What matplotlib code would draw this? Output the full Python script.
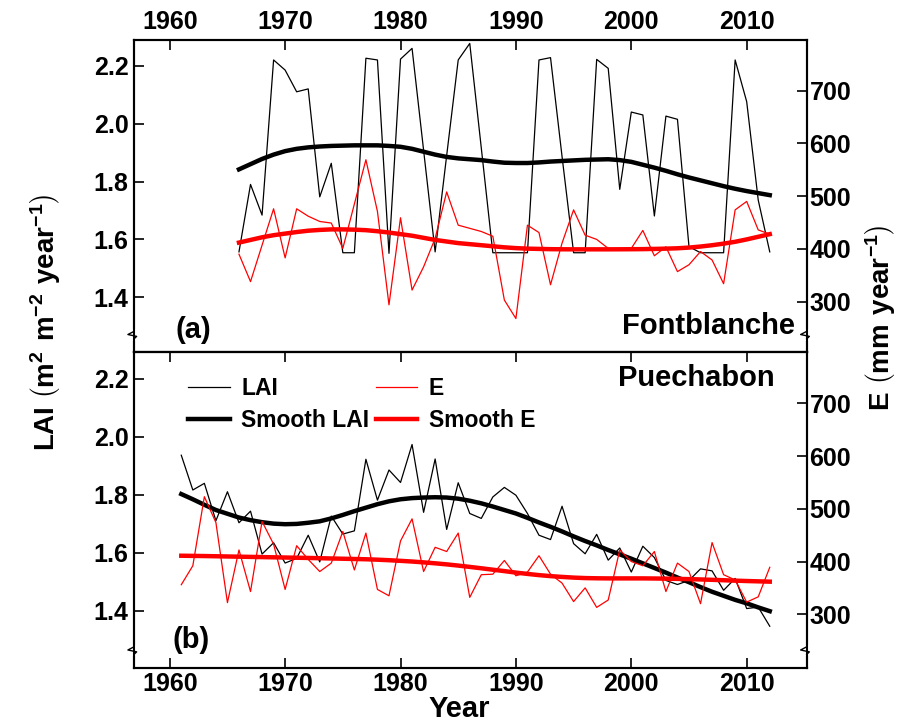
import numpy as np
import matplotlib.pyplot as plt

plt.rcParams['font.family'] = ['Liberation Sans', 'DejaVu Sans']
plt.rcParams['font.weight'] = 'bold'
plt.rcParams['mathtext.fontset'] = 'custom'
plt.rcParams['mathtext.rm'] = 'Liberation Sans:bold'
plt.rcParams['mathtext.bf'] = 'Liberation Sans:bold'
plt.rcParams['axes.linewidth'] = 1.5

# Fontblanche (a), 1966-2012
years_a = np.arange(1966, 2013)
lai_a = [1.557, 1.790, 1.684, 2.220, 2.185, 2.110, 2.120, 1.747, 1.863, 1.554,
         1.554, 2.226, 2.220, 1.552, 2.223, 2.260, 1.908, 1.557, 1.890, 2.220,
         2.277, 1.916, 1.554, 1.554, 1.554, 1.554, 2.220, 2.228, 1.886, 1.554,
         1.554, 2.222, 2.191, 1.773, 2.040, 2.030, 1.681, 2.026, 2.015, 1.575,
         1.554, 1.554, 1.554, 2.220, 2.076, 1.736, 1.557]
e_a = [390, 338, 407, 476, 383, 476, 462, 452, 449, 401,
       485, 569, 471, 294, 459, 322, 366, 420, 508, 445,
       439, 433, 424, 303, 268, 445, 431, 332, 411, 474,
       426, 418, 401, 399, 401, 435, 387, 404, 357, 370,
       395, 379, 334, 474, 490, 436, 428]
slai_a = [1.842, 1.860, 1.878, 1.893, 1.905, 1.913, 1.918, 1.921, 1.923, 1.924,
          1.925, 1.925, 1.925, 1.923, 1.920, 1.913, 1.903, 1.893, 1.885, 1.880,
          1.877, 1.874, 1.869, 1.865, 1.864, 1.864, 1.866, 1.869, 1.871, 1.873,
          1.875, 1.876, 1.877, 1.874, 1.868, 1.858, 1.848, 1.837, 1.825, 1.814,
          1.804, 1.794, 1.784, 1.775, 1.767, 1.760, 1.753]
se_a = [412, 417, 422, 426, 429, 432, 434.5, 436, 437, 437,
        436.5, 435.5, 433.5, 431, 428, 425, 421, 417, 414, 411,
        409, 407, 405, 403, 401.5, 400.5, 400, 399.5, 399.3, 399.2,
        399.2, 399.2, 399.2, 399.3, 399.4, 399.6, 400, 400.5, 401.2, 402.5,
        404.5, 407, 410, 413.5, 418, 423, 428]

# Puechabon (b), 1961-2012
years_b = np.arange(1961, 2013)
lai_b = [1.937, 1.817, 1.840, 1.711, 1.811, 1.704, 1.744, 1.596, 1.635, 1.565,
         1.581, 1.661, 1.569, 1.727, 1.665, 1.676, 1.923, 1.782, 1.886, 1.843,
         1.974, 1.740, 1.924, 1.681, 1.842, 1.736, 1.719, 1.793, 1.826, 1.799,
         1.736, 1.661, 1.646, 1.761, 1.632, 1.597, 1.664, 1.575, 1.617, 1.534,
         1.623, 1.584, 1.505, 1.491, 1.505, 1.545, 1.538, 1.471, 1.512, 1.408,
         1.413, 1.347]
e_b = [356, 392, 523, 474, 322, 422, 343, 476, 433, 347,
       430, 404, 381, 397, 457, 384, 454, 347, 335, 439,
       481, 381, 427, 419, 454, 332, 375, 376, 402, 373,
       380, 411, 376, 359, 324, 350, 313, 327, 422, 400,
       392, 419, 343, 397, 381, 320, 436, 375, 365, 323,
       333, 389]
slai_b = [1.803, 1.785, 1.766, 1.748, 1.735, 1.722, 1.713, 1.706, 1.701, 1.699,
          1.700, 1.704, 1.709, 1.719, 1.731, 1.744, 1.756, 1.768, 1.778, 1.785,
          1.789, 1.791, 1.792, 1.791, 1.787, 1.780, 1.771, 1.760, 1.748, 1.736,
          1.721, 1.705, 1.690, 1.674, 1.657, 1.641, 1.626, 1.610, 1.595, 1.580,
          1.564, 1.548, 1.532, 1.515, 1.499, 1.482, 1.466, 1.452, 1.438, 1.426,
          1.412, 1.399]
se_b = [411, 410.7, 410.4, 410, 409.6, 409.2, 408.8, 408.4, 408, 407.6,
        407.2, 406.8, 406.3, 405.8, 405.3, 404.8, 404.3, 403.5, 402.5, 401.3,
        400, 398.4, 396.6, 394.6, 392.3, 389.8, 387.2, 384.5, 381.8, 379,
        376.5, 374.2, 372.3, 370.8, 369.5, 368.6, 368.2, 368, 368, 368,
        368, 367.8, 367.5, 367.1, 366.6, 366, 365.3, 364.5, 363.7, 363,
        362.4, 361.8]

xticks = [1960, 1970, 1980, 1990, 2000, 2010]
lai_ticks = [1.4, 1.6, 1.8, 2.0, 2.2]
e_ticks = [300, 400, 500, 600, 700]

fig = plt.figure(figsize=(9.17, 7.23), dpi=100)
ax1 = fig.add_axes([0.1461, 0.5127, 0.7336, 0.4320])
ax2 = fig.add_axes([0.1461, 0.0761, 0.7336, 0.4366])

panels = [
    (ax1, years_a, lai_a, e_a, slai_a, se_a, (1.21, 2.289), (204, 796)),
    (ax2, years_b, lai_b, e_b, slai_b, se_b, (1.203, 2.292), (198, 797)),
]

def add_break(ax, yb):
    # small zigzag on the left and right spines
    for x0 in [0.0, 1.0]:
        xs = [x0, x0 - 0.009, x0 + 0.004, x0]
        ys = [yb + 0.012, yb + 0.002, yb - 0.004, yb - 0.012]
        ax.plot([x0, x0], [yb - 0.012, yb + 0.012], color='white', lw=3,
                transform=ax.transAxes, clip_on=False, zorder=5)
        ax.plot(xs, ys, color='black', lw=1.0, transform=ax.transAxes,
                clip_on=False, zorder=6)

lines = []
for i, (ax, yrs, lai, e, slai, se, llim, elim) in enumerate(panels):
    axr = ax.twinx()
    l1, = ax.plot(yrs, lai, color='black', lw=0.9, label='LAI')
    l2, = ax.plot(yrs, slai, color='black', lw=3.2, label='Smooth LAI')
    l3, = axr.plot(yrs, e, color='#ff0000', lw=0.9, label='E')
    l4, = axr.plot(yrs, se, color='#ff0000', lw=3.2, label='Smooth E')
    lines = [l1, l2, l3, l4]
    ax.set_xlim(1956.9, 2015.2)
    ax.set_ylim(*llim)
    axr.set_ylim(*elim)
    ax.set_xticks(xticks)
    ax.set_yticks(lai_ticks)
    ax.set_yticklabels(['%.1f' % v for v in lai_ticks])
    axr.set_yticks(e_ticks)
    ax.tick_params(axis='y', direction='in', length=7, width=1.2,
                   labelsize=18, pad=4)
    axr.tick_params(axis='y', direction='in', length=7, width=1.2,
                    labelsize=18, pad=2)
    for lab in ax.get_yticklabels() + axr.get_yticklabels():
        lab.set_fontweight('bold')
    if i == 0:
        ax.tick_params(axis='x', direction='in', length=7, width=1.2,
                       top=True, bottom=False, labeltop=True,
                       labelbottom=False, labelsize=18, pad=4)
    else:
        ax.tick_params(axis='x', direction='in', length=7, width=1.2,
                       top=True, bottom=True, labeltop=False,
                       labelbottom=True, labelsize=18, pad=3)
    for lab in ax.get_xticklabels():
        lab.set_fontweight('bold')
    add_break(ax, 0.055)

ax1.text(0.061, 0.071, '(a)', transform=ax1.transAxes, fontsize=21,
         fontweight='bold', ha='left', va='center')
ax1.text(0.983, 0.084, 'Fontblanche', transform=ax1.transAxes, fontsize=21,
         fontweight='bold', ha='right', va='center', zorder=10)
ax2.text(0.058, 0.09, '(b)', transform=ax2.transAxes, fontsize=21,
         fontweight='bold', ha='left', va='center')
ax2.text(0.953, 0.918, 'Puechabon', transform=ax2.transAxes, fontsize=21,
         fontweight='bold', ha='right', va='center', zorder=10)

leg = ax2.legend(lines, [l.get_label() for l in lines], ncol=2,
                 loc='upper left', bbox_to_anchor=(0.081, 0.922),
                 frameon=False, fontsize=16.5, borderpad=0, borderaxespad=0,
                 handlelength=1.8, handletextpad=0.5, columnspacing=0.3,
                 labelspacing=0.4)
for t in leg.get_texts():
    t.set_fontweight('bold')
leg.set_zorder(20)

fig.text(45 / 917, 1 - 322 / 723,
         r'LAI $\left(\mathbf{m^{2}\ m^{-2}\ year^{-1}}\right)$',
         rotation=90, fontsize=20, fontweight='bold', ha='center', va='center')
fig.text(880 / 917, 1 - 318 / 723,
         r'E $\left(\mathbf{mm\ year^{-1}}\right)$',
         rotation=90, fontsize=20, fontweight='bold', ha='center', va='center')
fig.text(459 / 917, 1 - 709 / 723, 'Year', fontsize=21, fontweight='bold',
         ha='center', va='center')

fig.savefig('out.png', dpi=100)
